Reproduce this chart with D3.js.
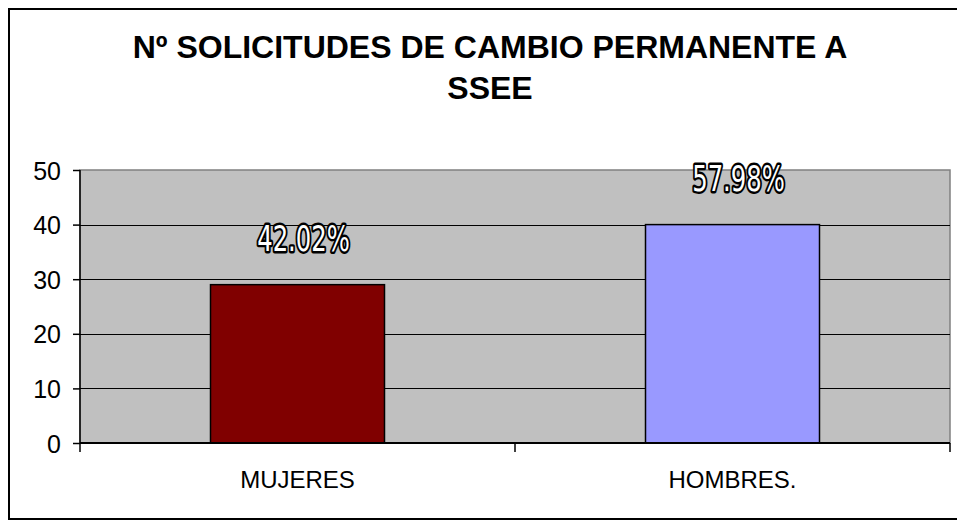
<!DOCTYPE html>
<html>
<head>
<meta charset="utf-8">
<script src="https://cdn.jsdelivr.net/npm/d3@7"></script>
<style>
  body { margin: 0; background: #fff; }
  svg { display: block; font-family: Arial, "Liberation Sans", sans-serif; }
</style>
</head>
<body>
<div id="chart"></div>
<script>
// chart data
const categories = ['MUJERES', 'HOMBRES.'];
const values = [29, 40];
const percentLabels = ['42.02%', '57.98%'];
const barColors = ['#800000', '#9999FF'];
const yTicks = [0, 10, 20, 30, 40, 50];
const titleLines = ['Nº SOLICITUDES DE CAMBIO PERMANENTE A', 'SSEE'];

const width = 957;
const height = 520;
const plot = {left: 80, right: 950, top: 170, bottom: 443};

const svg = d3.select('#chart')
  .append('svg')
  .attr('width', width)
  .attr('height', height);

// outer frame
svg.append('rect')
  .attr('x', 9)
  .attr('y', 9)
  .attr('width', 960)
  .attr('height', 510)
  .attr('fill', '#fff')
  .attr('stroke', '#000')
  .attr('stroke-width', 2);

// title
svg.append('text')
  .attr('text-anchor', 'middle')
  .attr('font-weight', 'bold')
  .attr('font-size', 32)
  .selectAll('tspan')
  .data(titleLines)
  .enter()
  .append('tspan')
  .attr('x', 490)
  .attr('y', (d, i) => 58 + i * 40.5)
  .text((d) => d);

const x = d3.scaleBand()
  .domain(categories)
  .range([plot.left, plot.right])
  .paddingInner(0)
  .paddingOuter(0);

const y = d3.scaleLinear()
  .domain([0, 50])
  .range([plot.bottom, plot.top]);

// plot area
svg.append('rect')
  .attr('x', plot.left)
  .attr('y', plot.top)
  .attr('width', plot.right - plot.left)
  .attr('height', plot.bottom - plot.top)
  .attr('fill', '#C0C0C0')
  .attr('stroke', '#808080')
  .attr('stroke-width', 1.5);

// gridlines
svg.append('g')
  .selectAll('line')
  .data(yTicks.filter((t) => t > 0 && t < 50))
  .enter()
  .append('line')
  .attr('x1', plot.left)
  .attr('x2', plot.right)
  .attr('y1', (d) => Math.round(y(d)) + 0.5)
  .attr('y2', (d) => Math.round(y(d)) + 0.5)
  .attr('stroke', '#000')
  .attr('stroke-width', 1);

// y axis
const yAxis = d3.axisLeft(y)
  .tickValues(yTicks)
  .tickSize(7)
  .tickPadding(12);

const yAxisG = svg.append('g')
  .attr('transform', 'translate(' + plot.left + ',0)')
  .call(yAxis);
yAxisG.selectAll('text')
  .attr('font-size', 25)
  .attr('font-family', 'Arial, "Liberation Sans", sans-serif')
  .attr('fill', '#000')
  .attr('dy', '0.36em');
yAxisG.selectAll('line, path').attr('stroke', '#000').attr('stroke-width', 1.5);
yAxisG.select('.domain').attr('d', 'M0,' + plot.top + 'V' + plot.bottom);

// bars
svg.append('g')
  .selectAll('rect')
  .data(values)
  .enter()
  .append('rect')
  .attr('x', (d, i) => x(categories[i]) + x.bandwidth() * 0.3)
  .attr('width', x.bandwidth() * 0.4)
  .attr('y', (d) => y(d))
  .attr('height', (d) => y(0) - y(d))
  .attr('fill', (d, i) => barColors[i])
  .attr('stroke', '#000')
  .attr('stroke-width', 1.5);

// x axis
const xAxis = d3.axisBottom(x)
  .tickSize(0)
  .tickPadding(28);

const xAxisG = svg.append('g')
  .attr('transform', 'translate(0,' + plot.bottom + ')')
  .call(xAxis);
xAxisG.select('.domain')
  .attr('d', 'M' + plot.left + ',0H' + plot.right)
  .attr('stroke', '#000')
  .attr('stroke-width', 2);
xAxisG.selectAll('text')
  .attr('font-size', 24)
  .attr('font-family', 'Arial, "Liberation Sans", sans-serif')
  .attr('fill', '#000');

// category separators below axis
xAxisG.selectAll('.sep')
  .data([plot.left, x(categories[1]), plot.right])
  .enter()
  .append('line')
  .attr('class', 'sep')
  .attr('x1', (d) => d)
  .attr('x2', (d) => d)
  .attr('y1', 0)
  .attr('y2', 9)
  .attr('stroke', '#000')
  .attr('stroke-width', 1.5);

// percentage labels
svg.append('g')
  .selectAll('text')
  .data(values)
  .enter()
  .append('text')
  .attr('transform', (d, i) => {
    let cx = x(categories[i]) + x.bandwidth() / 2 + 6;
    let cy = y(d) - 34;
    return 'translate(' + cx + ',' + cy + ') scale(0.9,1.2)';
  })
  .attr('text-anchor', 'middle')
  .attr('font-family', '"Liberation Sans Narrow", "DejaVu Sans Condensed", Arial, sans-serif')
  .attr('font-size', 30)
  .attr('fill', '#fff')
  .attr('stroke', '#000')
  .attr('stroke-width', 4)
  .attr('stroke-linejoin', 'round')
  .attr('paint-order', 'stroke')
  .text((d, i) => percentLabels[i]);
</script>
</body>
</html>
